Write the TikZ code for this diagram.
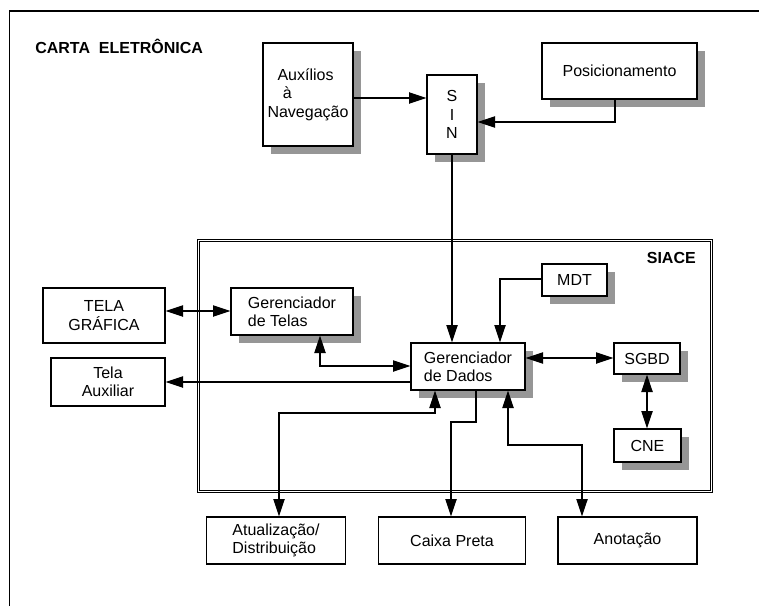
\documentclass[tikz,border=0pt]{standalone}
\usepackage{fontspec}
\setmainfont{Liberation Sans}
\usetikzlibrary{arrows.meta,shadows}
\definecolor{shadowgray}{RGB}{150,150,150}
\begin{document}
\begin{tikzpicture}[x=0.75pt,y=-0.75pt,
  font=\fontsize{12}{13.8}\selectfont,
  box/.style={draw, line width=1pt, fill=white, align=center, inner sep=0pt},
  sbox/.style={box, general shadow={fill=shadowgray, shadow xshift=6pt, shadow yshift=-6pt}},
  lbl/.style={inner sep=0pt, font=\fontsize{12}{13.8}\selectfont\bfseries},
  conn/.style={line width=0.9pt},
  >={Triangle[length=13pt,width=8.5pt]}
]
\useasboundingbox (0,0) rectangle (759,606);
% outer frame (only left and top edges visible)
\draw[line width=1.3pt] (9.5,606) -- (9.5,11) -- (759,11);
% SIACE double frame
\node[draw, double, double distance=1.2pt, line width=0.7pt, inner sep=0pt,
      minimum width=384.75pt, minimum height=188.25pt] (siace) at (455,366) {};
\node[lbl, anchor=west] (title) at (35,46) {CARTA\ \ ELETRÔNICA};
\node[lbl, anchor=east] (siacel) at (696,258) {SIACE};
% boxes
\node[sbox, minimum width=67.5pt, minimum height=77.25pt, align=left] (aux) at (308,94.5)
  {\hspace*{7.5pt}Auxílios\\\hspace*{11.5pt}à\\Navegação};
\node[sbox, minimum width=37.5pt, minimum height=59.25pt] (sin) at (452,114.5) {S\\I\\N};
\node[sbox, minimum width=116.25pt, minimum height=42pt] (pos) at (619.5,71) {Posicionamento};
\node[sbox, minimum width=48.75pt, minimum height=24pt] (mdt) at (574.5,280) {MDT};
\node[sbox, minimum width=91.5pt, minimum height=35.25pt, align=left] (gt) at (292,311.5) {Gerenciador\\de Telas};
\node[sbox, minimum width=85.5pt, minimum height=35.25pt, align=left] (gd) at (468,366.5) {Gerenciador\\de Dados};
\node[sbox, minimum width=49.5pt, minimum height=23.25pt] (sgbd) at (647,358.5) {SGBD};
\node[sbox, minimum width=50.25pt, minimum height=24.75pt] (cne) at (647.5,445.5) {CNE};
\node[box, minimum width=91.5pt, minimum height=41.25pt] (tg) at (104,315.5) {TELA\\GRÁFICA};
\node[box, minimum width=85.5pt, minimum height=36pt] (ta) at (108,382) {Tela\\Auxiliar};
\node[box, minimum width=104.25pt, minimum height=35.25pt, align=left] (atu) at (276,540.5) {Atualização/\\Distribuição};
\node[box, minimum width=110.25pt, minimum height=35.25pt] (cp) at (452,540.5) {Caixa Preta};
\node[box, minimum width=104.25pt, minimum height=35.25pt] (ano) at (627.5,540.5) {Anotação};
% connectors
\draw[conn,->] (aux.east |- 0,98) -- (sin.west |- 0,98);
\draw[conn,->] (pos.south -| 615,0) -- (615,122) -- (sin.east |- 0,122);
\draw[conn,->] (sin.south) -- (gd.north -| sin.south);
\draw[conn,->] (mdt.west |- 0,279) -- (500,279) -- (gd.north -| 500,0);
\draw[conn,<->] (tg.east |- 0,311) -- (gt.west |- 0,311);
\draw[conn,<->] (gt.south -| 320,0) -- (320,366) -- (gd.west |- 0,366);
\draw[conn,->] (gd.west |- 0,382) -- (ta.east |- 0,382);
\draw[conn,<->] (gd.east |- 0,358) -- (sgbd.west |- 0,358);
\draw[conn,<->] (sgbd.south) -- (cne.north -| sgbd.south);
\draw[conn,<->] (gd.south -| 435,0) -- (435,413) -- (279,413) -- (atu.north -| 279,0);
\draw[conn,->] (gd.south -| 476,0) -- (476,422) -- (451,422) -- (cp.north -| 451,0);
\draw[conn,<->] (gd.south -| 508,0) -- (508,445) -- (582,445) -- (ano.north -| 582,0);
\end{tikzpicture}
\end{document}
